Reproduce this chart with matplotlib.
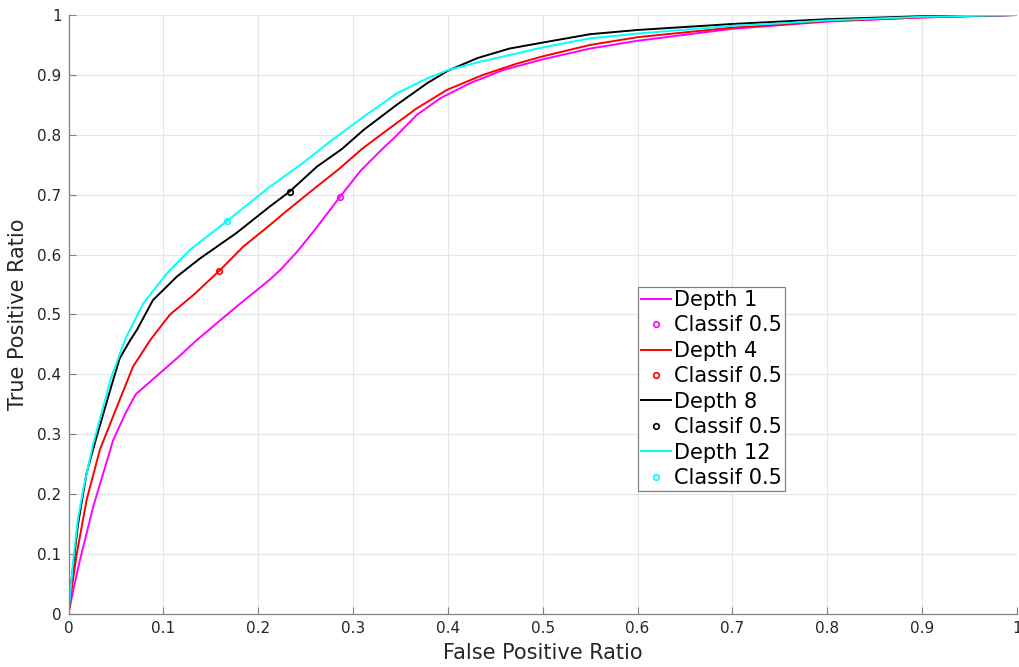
import matplotlib.pyplot as plt
import numpy as np

# ROC curves (false positive ratio, true positive ratio)
fpr_d1 = [0, 0.005, 0.012, 0.026, 0.047, 0.060, 0.071, 0.118, 0.135, 0.177, 0.212,
          0.223, 0.240, 0.258, 0.286, 0.308, 0.330, 0.346, 0.367, 0.392, 0.423, 0.458,
          0.500, 0.550, 0.600, 0.700, 0.750, 0.800, 0.900, 1.0]
tpr_d1 = [0, 0.040, 0.090, 0.179, 0.290, 0.335, 0.367, 0.432, 0.457, 0.513, 0.558,
          0.574, 0.603, 0.638, 0.696, 0.740, 0.775, 0.799, 0.833, 0.861, 0.886, 0.908,
          0.926, 0.944, 0.957, 0.977, 0.983, 0.989, 0.996, 1.0]

fpr_d4 = [0, 0.0016, 0.0086, 0.019, 0.033, 0.051, 0.068, 0.086, 0.107, 0.132, 0.159,
          0.184, 0.212, 0.227, 0.255, 0.286, 0.309, 0.336, 0.367, 0.399, 0.437, 0.473,
          0.500, 0.550, 0.600, 0.700, 0.750, 0.800, 0.900, 1.0]
tpr_d4 = [0, 0.023, 0.100, 0.190, 0.274, 0.346, 0.413, 0.457, 0.500, 0.533, 0.573,
          0.613, 0.649, 0.669, 0.705, 0.744, 0.776, 0.808, 0.844, 0.875, 0.900, 0.919,
          0.931, 0.950, 0.963, 0.979, 0.984, 0.990, 0.996, 1.0]

fpr_d8 = [0, 0.003, 0.010, 0.019, 0.030, 0.046, 0.054, 0.065, 0.072, 0.089, 0.114,
          0.139, 0.177, 0.212, 0.233, 0.262, 0.288, 0.311, 0.346, 0.378, 0.400, 0.431,
          0.465, 0.500, 0.550, 0.600, 0.700, 0.750, 0.800, 0.900, 1.0]
tpr_d8 = [0, 0.055, 0.150, 0.235, 0.298, 0.385, 0.427, 0.457, 0.474, 0.524, 0.563,
          0.594, 0.636, 0.680, 0.705, 0.747, 0.776, 0.808, 0.850, 0.886, 0.907, 0.928,
          0.944, 0.954, 0.968, 0.975, 0.985, 0.989, 0.993, 0.998, 1.0]

fpr_d12 = [0, 0.005, 0.010, 0.016, 0.026, 0.044, 0.060, 0.079, 0.104, 0.128, 0.167,
           0.212, 0.248, 0.276, 0.311, 0.346, 0.378, 0.400, 0.434, 0.473, 0.500, 0.550,
           0.600, 0.700, 0.750, 0.800, 0.900, 1.0]
tpr_d12 = [0, 0.090, 0.160, 0.212, 0.284, 0.390, 0.460, 0.519, 0.569, 0.608, 0.656,
           0.713, 0.754, 0.789, 0.830, 0.869, 0.894, 0.908, 0.922, 0.936, 0.946, 0.961,
           0.969, 0.982, 0.986, 0.991, 0.997, 1.0]

# operating points at threshold 0.5
classif_fpr = [0.286, 0.159, 0.233, 0.167]
classif_tpr = [0.696, 0.573, 0.705, 0.656]

depths = [1, 4, 8, 12]
colors = ['#ff00ff', '#ff0000', '#000000', '#00ffff']


def main():
    fig = plt.figure(figsize=(10.2, 6.67), dpi=100)
    ax = fig.add_axes([0.0672, 0.0795, 0.9298, 0.898])

    curves = [(fpr_d1, tpr_d1), (fpr_d4, tpr_d4), (fpr_d8, tpr_d8), (fpr_d12, tpr_d12)]
    for i, (fx, fy) in enumerate(curves):
        ax.plot(fx, fy, color=colors[i], lw=1.4, label='Depth %d' % depths[i])
        ax.plot(classif_fpr[i], classif_tpr[i], 'o', color=colors[i], mfc='none',
                ms=4, mew=1.2, label='Classif 0.5')

    ax.set_xlim(0, 1)
    ax.set_ylim(0, 1)
    ticks = np.arange(0, 1.01, 0.1)
    labels = ['0'] + ['%.1f' % t for t in ticks[1:-1]] + ['1']
    ax.set_xticks(ticks)
    ax.set_xticklabels(labels)
    ax.set_yticks(ticks)
    ax.set_yticklabels(labels)
    ax.grid(True, color='#e6e6e6', lw=0.8)
    ax.set_axisbelow(True)
    ax.tick_params(direction='in', length=5, colors='#808080', labelcolor='#262626',
                   labelsize=11, pad=5)
    for s in ['top', 'right']:
        ax.spines[s].set_visible(False)
    for s in ['left', 'bottom']:
        ax.spines[s].set_color('#808080')
        ax.spines[s].set_linewidth(0.9)

    ax.set_xlabel('False Positive Ratio', fontsize=15, color='#262626', labelpad=5)
    ax.set_ylabel('True Positive Ratio', fontsize=15, color='#262626', labelpad=7)

    # legend box sits left of centre, same size as the original one
    leg = ax.legend(loc='upper left', bbox_to_anchor=(0.600, 0.546), fontsize=15,
                    fancybox=False, edgecolor='#808080', framealpha=1,
                    handlelength=1.45, handletextpad=0.15, labelspacing=0.26,
                    borderpad=0.15, borderaxespad=0)
    leg.get_frame().set_linewidth(0.9)

    fig.savefig('out.png', dpi=100)


if __name__ == '__main__':
    main()
